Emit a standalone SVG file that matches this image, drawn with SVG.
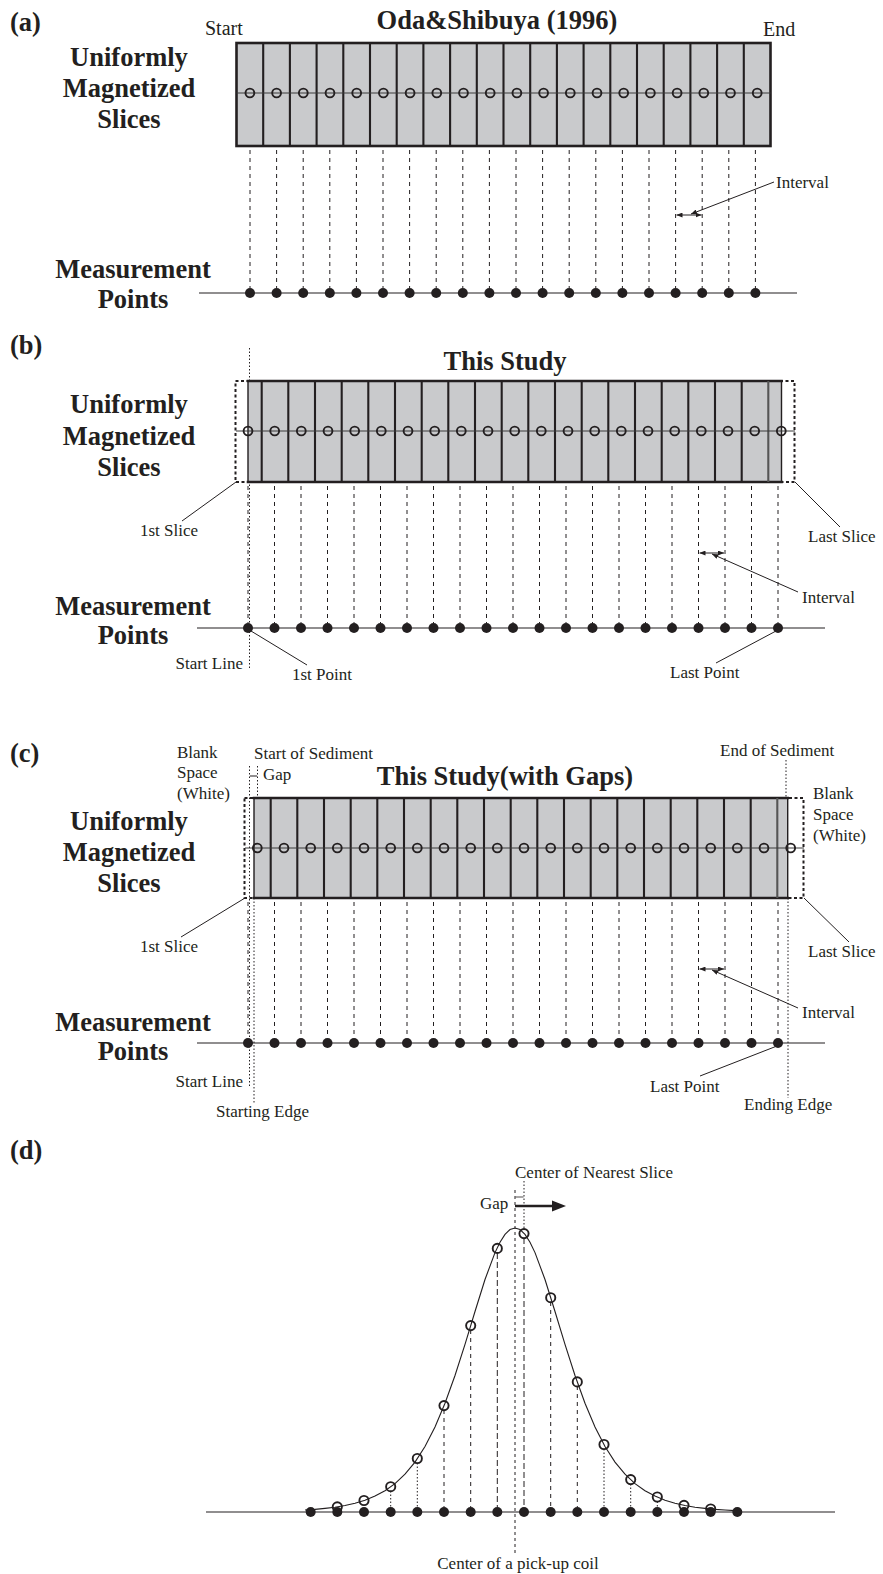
<svg xmlns="http://www.w3.org/2000/svg" width="883" height="1574" viewBox="0 0 883 1574">
<style>
text{font-family:"Liberation Serif","Times New Roman",serif;fill:#231f20}
.lb{font-weight:bold;font-size:26.5px}
.rg{font-size:20px}
.sm{font-size:17px}
.mid{text-anchor:middle}
.end{text-anchor:end}
.box{fill:#c9cacc;stroke:#231f20;stroke-width:2.6}
.dv{stroke:#231f20;stroke-width:2.1;fill:none}
.hl{stroke:#3a3a3a;stroke-width:1;fill:none}
.oc{fill:none;stroke:#231f20;stroke-width:1.9}
.dot{fill:#231f20}
.dash{stroke:#231f20;stroke-width:1;stroke-dasharray:4 4;fill:none}
.dotl{stroke:#231f20;stroke-width:1;stroke-dasharray:1.5 2;fill:none}
.dbox{fill:none;stroke:#231f20;stroke-width:2;stroke-dasharray:3 2.5}
.ln{stroke:#231f20;stroke-width:1;fill:none}
.axis{stroke:#231f20;stroke-width:1.2;fill:none}
.arr{stroke:#231f20;stroke-width:1;fill:none;marker-start:url(#ah);marker-end:url(#ah)}
.lead{stroke:#231f20;stroke-width:1;fill:none;marker-end:url(#ah)}
.ld{stroke:#231f20;stroke-width:1;stroke-dasharray:6 3;fill:none}
</style>
<defs>
<marker id="ah" viewBox="0 0 6 5" refX="6" refY="2.5" markerWidth="6" markerHeight="5" markerUnits="userSpaceOnUse" orient="auto-start-reverse">
<path d="M0,0 L6,2.5 L0,5 z" fill="#231f20"/>
</marker>
</defs>

<!-- ===== Panel (a) ===== -->
<g id="panel-a-labels">
<text class="lb" x="10" y="31">(a)</text>
<text class="rg" x="205" y="35">Start</text>
<text class="lb mid" x="497" y="29">Oda&amp;Shibuya (1996)</text>
<text class="rg" x="763" y="36">End</text>
<text class="lb mid" x="129" y="66">Uniformly</text>
<text class="lb mid" x="129" y="97">Magnetized</text>
<text class="lb mid" x="129" y="128">Slices</text>
<text class="lb mid" x="133" y="278">Measurement</text>
<text class="lb mid" x="133" y="308">Points</text>
<text class="sm" x="776" y="188">Interval</text>
</g>
<g id="slices-a">
<rect class="box" x="236.5" y="43" width="534" height="103"/>
<path class="dv" d="M263.2 43V146M289.9 43V146M316.6 43V146M343.3 43V146M370 43V146M396.7 43V146M423.4 43V146M450.1 43V146M476.8 43V146M503.5 43V146M530.2 43V146M556.9 43V146M583.6 43V146M610.3 43V146M637 43V146M663.7 43V146M690.4 43V146M717.1 43V146M743.8 43V146"/>
<path class="hl" d="M236.5 93H770.5"/>
<g>
<circle class="oc" cx="249.9" cy="93" r="4.4"/><circle class="oc" cx="276.6" cy="93" r="4.4"/><circle class="oc" cx="303.3" cy="93" r="4.4"/><circle class="oc" cx="330" cy="93" r="4.4"/><circle class="oc" cx="356.7" cy="93" r="4.4"/><circle class="oc" cx="383.4" cy="93" r="4.4"/><circle class="oc" cx="410.1" cy="93" r="4.4"/><circle class="oc" cx="436.8" cy="93" r="4.4"/><circle class="oc" cx="463.5" cy="93" r="4.4"/><circle class="oc" cx="490.2" cy="93" r="4.4"/><circle class="oc" cx="516.9" cy="93" r="4.4"/><circle class="oc" cx="543.6" cy="93" r="4.4"/><circle class="oc" cx="570.3" cy="93" r="4.4"/><circle class="oc" cx="597" cy="93" r="4.4"/><circle class="oc" cx="623.7" cy="93" r="4.4"/><circle class="oc" cx="650.4" cy="93" r="4.4"/><circle class="oc" cx="677.1" cy="93" r="4.4"/><circle class="oc" cx="703.8" cy="93" r="4.4"/><circle class="oc" cx="730.5" cy="93" r="4.4"/><circle class="oc" cx="757.2" cy="93" r="4.4"/>
</g>
</g>
<g id="points-a">
<path class="axis" d="M199 293H797"/>
<circle class="dot" cx="250" cy="293" r="5"/><circle class="dot" cx="276.6" cy="293" r="5"/><circle class="dot" cx="303.2" cy="293" r="5"/><circle class="dot" cx="329.8" cy="293" r="5"/><circle class="dot" cx="356.4" cy="293" r="5"/><circle class="dot" cx="383" cy="293" r="5"/><circle class="dot" cx="409.6" cy="293" r="5"/><circle class="dot" cx="436.2" cy="293" r="5"/><circle class="dot" cx="462.8" cy="293" r="5"/><circle class="dot" cx="489.4" cy="293" r="5"/><circle class="dot" cx="516" cy="293" r="5"/><circle class="dot" cx="542.6" cy="293" r="5"/><circle class="dot" cx="569.2" cy="293" r="5"/><circle class="dot" cx="595.8" cy="293" r="5"/><circle class="dot" cx="622.4" cy="293" r="5"/><circle class="dot" cx="649" cy="293" r="5"/><circle class="dot" cx="675.6" cy="293" r="5"/><circle class="dot" cx="702.2" cy="293" r="5"/><circle class="dot" cx="728.8" cy="293" r="5"/><circle class="dot" cx="755.4" cy="293" r="5"/>
</g>
<g id="connectors-a">
<path class="dash" d="M250 150V288M276.6 150V288M303.2 150V288M329.8 150V288M356.4 150V288M383 150V288M409.6 150V288M436.2 150V288M462.8 150V288M489.4 150V288M516 150V288M542.6 150V288M569.2 150V288M595.8 150V288M622.4 150V288M649 150V288M675.6 150V288M702.2 150V288M728.8 150V288M755.4 150V288"/>
<line class="arr" x1="676.5" y1="215" x2="701.5" y2="215"/>
<line class="lead" x1="774" y1="182" x2="691" y2="214"/>
</g>

<!-- ===== Panel (b) ===== -->
<g id="panel-b-labels">
<text class="lb" x="10" y="354">(b)</text>
<text class="lb mid" x="505" y="370">This Study</text>
<text class="lb mid" x="129" y="413">Uniformly</text>
<text class="lb mid" x="129" y="445">Magnetized</text>
<text class="lb mid" x="129" y="476">Slices</text>
<text class="lb mid" x="133" y="615">Measurement</text>
<text class="lb mid" x="133" y="644">Points</text>
<text class="sm" x="140" y="536">1st Slice</text>
<text class="sm" x="808" y="542">Last Slice</text>
<text class="sm" x="802" y="603">Interval</text>
<text class="sm end" x="243" y="669">Start Line</text>
<text class="sm" x="292" y="680">1st Point</text>
<text class="sm" x="670" y="678">Last Point</text>
</g>
<g id="startline-b">
<path class="dotl" d="M249.5 348V670"/>
</g>
<g id="slices-b">
<rect class="dbox" x="235.5" y="381" width="559" height="101"/>
<rect class="box" x="248" y="381" width="533.5" height="101" style="stroke-width:0"/>
<path class="dv" style="stroke-width:2.6" d="M246.7 381H782.8M246.7 482H782.8"/>
<path class="ln" style="stroke-width:1.4" d="M248 381V482M781.5 381V482"/>
<path class="dv" d="M261.7 381V482M288.3 381V482M315 381V482M341.7 381V482M368.3 381V482M395 381V482M421.7 381V482M448.3 381V482M475 381V482M501.7 381V482M528.3 381V482M555 381V482M581.7 381V482M608.3 381V482M635 381V482M661.7 381V482M688.3 381V482M715 381V482M741.7 381V482"/>
<path class="dv" style="stroke:#555" d="M768.3 381V482"/>
<path class="hl" d="M236 431H795"/>
<circle class="oc" cx="248" cy="431" r="4.4"/><circle class="oc" cx="274.7" cy="431" r="4.4"/><circle class="oc" cx="301.3" cy="431" r="4.4"/><circle class="oc" cx="328" cy="431" r="4.4"/><circle class="oc" cx="354.7" cy="431" r="4.4"/><circle class="oc" cx="381.3" cy="431" r="4.4"/><circle class="oc" cx="408" cy="431" r="4.4"/><circle class="oc" cx="434.7" cy="431" r="4.4"/><circle class="oc" cx="461.3" cy="431" r="4.4"/><circle class="oc" cx="488" cy="431" r="4.4"/><circle class="oc" cx="514.7" cy="431" r="4.4"/><circle class="oc" cx="541.3" cy="431" r="4.4"/><circle class="oc" cx="568" cy="431" r="4.4"/><circle class="oc" cx="594.7" cy="431" r="4.4"/><circle class="oc" cx="621.3" cy="431" r="4.4"/><circle class="oc" cx="648" cy="431" r="4.4"/><circle class="oc" cx="674.7" cy="431" r="4.4"/><circle class="oc" cx="701.3" cy="431" r="4.4"/><circle class="oc" cx="728" cy="431" r="4.4"/><circle class="oc" cx="754.7" cy="431" r="4.4"/><circle class="oc" cx="781.3" cy="431" r="4.4"/>
</g>
<g id="points-b">
<path class="axis" d="M197 628H825"/>
<circle class="dot" cx="248" cy="628" r="5"/><circle class="dot" cx="274.5" cy="628" r="5"/><circle class="dot" cx="301" cy="628" r="5"/><circle class="dot" cx="327.5" cy="628" r="5"/><circle class="dot" cx="354" cy="628" r="5"/><circle class="dot" cx="380.5" cy="628" r="5"/><circle class="dot" cx="407" cy="628" r="5"/><circle class="dot" cx="433.5" cy="628" r="5"/><circle class="dot" cx="460" cy="628" r="5"/><circle class="dot" cx="486.5" cy="628" r="5"/><circle class="dot" cx="513" cy="628" r="5"/><circle class="dot" cx="539.5" cy="628" r="5"/><circle class="dot" cx="566" cy="628" r="5"/><circle class="dot" cx="592.5" cy="628" r="5"/><circle class="dot" cx="619" cy="628" r="5"/><circle class="dot" cx="645.5" cy="628" r="5"/><circle class="dot" cx="672" cy="628" r="5"/><circle class="dot" cx="698.5" cy="628" r="5"/><circle class="dot" cx="725" cy="628" r="5"/><circle class="dot" cx="751.5" cy="628" r="5"/><circle class="dot" cx="778" cy="628" r="5"/>
</g>
<g id="connectors-b">
<path class="dash" d="M248 486V623M274.5 486V623M301 486V623M327.5 486V623M354 486V623M380.5 486V623M407 486V623M433.5 486V623M460 486V623M486.5 486V623M513 486V623M539.5 486V623M566 486V623M592.5 486V623M619 486V623M645.5 486V623M672 486V623M698.5 486V623M725 486V623M751.5 486V623M778 486V623"/>
<line class="arr" x1="699.5" y1="553" x2="724" y2="553"/>
<line class="lead" x1="798" y1="592" x2="712" y2="554"/>
<line class="ln" x1="236" y1="482" x2="182" y2="521"/>
<line class="ln" x1="795" y1="482" x2="840" y2="527"/>
<line class="ln" x1="251" y1="631" x2="307" y2="665"/>
<line class="ln" x1="776" y1="631" x2="716" y2="663"/>
</g>

<!-- ===== Panel (c) ===== -->
<g id="panel-c-labels">
<text class="lb" x="10" y="762">(c)</text>
<text class="sm" x="177" y="758">Blank</text>
<text class="sm" x="177" y="778">Space</text>
<text class="sm" x="177" y="799">(White)</text>
<text class="sm" x="254" y="759">Start of Sediment</text>
<text class="sm" x="263" y="780">Gap</text>
<text class="lb mid" x="505" y="785">This Study(with Gaps)</text>
<text class="sm" x="720" y="756">End of Sediment</text>
<text class="sm" x="813" y="799">Blank</text>
<text class="sm" x="813" y="820">Space</text>
<text class="sm" x="813" y="841">(White)</text>
<text class="lb mid" x="129" y="830">Uniformly</text>
<text class="lb mid" x="129" y="861">Magnetized</text>
<text class="lb mid" x="129" y="892">Slices</text>
<text class="lb mid" x="133" y="1031">Measurement</text>
<text class="lb mid" x="133" y="1060">Points</text>
<text class="sm" x="140" y="952">1st Slice</text>
<text class="sm" x="808" y="957">Last Slice</text>
<text class="sm" x="802" y="1018">Interval</text>
<text class="sm end" x="243" y="1087">Start Line</text>
<text class="sm" x="216" y="1117">Starting Edge</text>
<text class="sm" x="650" y="1092">Last Point</text>
<text class="sm" x="744" y="1110">Ending Edge</text>
</g>
<g id="edges-c">
<path class="dotl" d="M249.5 766V1086"/>
<path class="dotl" d="M257.5 766V798"/>
<path class="dotl" d="M254 898V1104"/>
<path class="dotl" d="M786 760V798"/>
<path class="dotl" d="M788 898V1098"/>
<line class="ln" x1="250" y1="776" x2="257" y2="776"/>
</g>
<g id="slices-c">
<rect class="dbox" x="244.5" y="798" width="559" height="100"/>
<rect class="box" x="254" y="798" width="533.7" height="100" style="stroke-width:0"/>
<path class="dv" style="stroke-width:2.6" d="M252.7 798H789M252.7 898H789"/>
<path class="ln" style="stroke-width:1.4" d="M254 798V898M787.7 798V898"/>
<path class="dv" d="M270.7 798V898M297.3 798V898M324 798V898M350.7 798V898M377.3 798V898M404 798V898M430.7 798V898M457.3 798V898M484 798V898M510.7 798V898M537.3 798V898M564 798V898M590.7 798V898M617.3 798V898M644 798V898M670.7 798V898M697.3 798V898M724 798V898M750.7 798V898"/>
<path class="dv" style="stroke:#555" d="M777.3 798V898"/>
<path class="hl" d="M245 848H804"/>
<circle class="oc" cx="257.3" cy="848" r="4.4"/><circle class="oc" cx="284" cy="848" r="4.4"/><circle class="oc" cx="310.7" cy="848" r="4.4"/><circle class="oc" cx="337.3" cy="848" r="4.4"/><circle class="oc" cx="364" cy="848" r="4.4"/><circle class="oc" cx="390.7" cy="848" r="4.4"/><circle class="oc" cx="417.3" cy="848" r="4.4"/><circle class="oc" cx="444" cy="848" r="4.4"/><circle class="oc" cx="470.7" cy="848" r="4.4"/><circle class="oc" cx="497.3" cy="848" r="4.4"/><circle class="oc" cx="524" cy="848" r="4.4"/><circle class="oc" cx="550.7" cy="848" r="4.4"/><circle class="oc" cx="577.3" cy="848" r="4.4"/><circle class="oc" cx="604" cy="848" r="4.4"/><circle class="oc" cx="630.7" cy="848" r="4.4"/><circle class="oc" cx="657.3" cy="848" r="4.4"/><circle class="oc" cx="684" cy="848" r="4.4"/><circle class="oc" cx="710.7" cy="848" r="4.4"/><circle class="oc" cx="737.3" cy="848" r="4.4"/><circle class="oc" cx="764" cy="848" r="4.4"/><circle class="oc" cx="790.7" cy="848" r="4.4"/>
</g>
<g id="points-c">
<path class="axis" d="M197 1043H825"/>
<circle class="dot" cx="248" cy="1043" r="5"/><circle class="dot" cx="274.5" cy="1043" r="5"/><circle class="dot" cx="301" cy="1043" r="5"/><circle class="dot" cx="327.5" cy="1043" r="5"/><circle class="dot" cx="354" cy="1043" r="5"/><circle class="dot" cx="380.5" cy="1043" r="5"/><circle class="dot" cx="407" cy="1043" r="5"/><circle class="dot" cx="433.5" cy="1043" r="5"/><circle class="dot" cx="460" cy="1043" r="5"/><circle class="dot" cx="486.5" cy="1043" r="5"/><circle class="dot" cx="513" cy="1043" r="5"/><circle class="dot" cx="539.5" cy="1043" r="5"/><circle class="dot" cx="566" cy="1043" r="5"/><circle class="dot" cx="592.5" cy="1043" r="5"/><circle class="dot" cx="619" cy="1043" r="5"/><circle class="dot" cx="645.5" cy="1043" r="5"/><circle class="dot" cx="672" cy="1043" r="5"/><circle class="dot" cx="698.5" cy="1043" r="5"/><circle class="dot" cx="725" cy="1043" r="5"/><circle class="dot" cx="751.5" cy="1043" r="5"/><circle class="dot" cx="778" cy="1043" r="5"/>
</g>
<g id="connectors-c">
<path class="dash" d="M248 902V1038M274.5 902V1038M301 902V1038M327.5 902V1038M354 902V1038M380.5 902V1038M407 902V1038M433.5 902V1038M460 902V1038M486.5 902V1038M513 902V1038M539.5 902V1038M566 902V1038M592.5 902V1038M619 902V1038M645.5 902V1038M672 902V1038M698.5 902V1038M725 902V1038M751.5 902V1038M778 902V1038"/>
<line class="arr" x1="699.5" y1="969" x2="724" y2="969"/>
<line class="lead" x1="798" y1="1008" x2="712" y2="970"/>
<line class="ln" x1="245" y1="898" x2="181" y2="937"/>
<line class="ln" x1="804" y1="898" x2="849" y2="942"/>
<line class="ln" x1="777" y1="1046" x2="700" y2="1076"/>
</g>

<!-- ===== Panel (d) ===== -->
<g id="panel-d-labels">
<text class="lb" x="10" y="1159">(d)</text>
<text class="sm" x="515" y="1178">Center of Nearest Slice</text>
<text class="sm" x="480" y="1209">Gap</text>
<text class="sm mid" x="518" y="1569">Center of a pick-up coil</text>
</g>
<g id="guides-d">
<path class="dash" style="stroke-dasharray:3 3" d="M515 1190V1556"/>
<path class="dotl" d="M524 1181V1229"/>
<line class="ln" x1="515.5" y1="1197" x2="523.5" y2="1197" style="stroke-width:0.8"/>
<line x1="515" y1="1206" x2="554" y2="1206" stroke="#231f20" stroke-width="2.6"/>
<polygon points="552,1200.5 566,1206 552,1211.5" fill="#231f20"/>
</g>
<g id="curve-d">
<path class="axis" d="M206 1512H835"/>
<polyline fill="none" stroke="#231f20" stroke-width="1.1" points="305,1510 315,1509.4 325,1508.4 335,1507.2 345,1505.5 355,1503.2 365,1500.2 375,1496.1 385,1490.7 395,1483.6 405,1474.2 415,1462.1 425,1446.5 435,1426.9 445,1403.2 455,1375.5 465,1344.4 475,1311.5 485,1279.5 495,1252.6 500,1242.2 505,1234.4 510,1229.6 515,1228 520,1229.6 525,1234.4 530,1242.2 535,1252.6 545,1279.5 555,1311.5 565,1344.4 575,1375.5 585,1403.2 595,1426.9 605,1446.5 615,1462.1 625,1474.2 635,1483.6 645,1490.7 655,1496.1 665,1500.2 675,1503.2 685,1505.5 695,1507.2 705,1508.4 715,1509.4 725,1510 735,1510.6"/>
</g>
<g id="drops-d">
<path class="dotl" d="M390.7 1491V1507M417.3 1463V1507M604 1449V1507M630.7 1484V1507M657.3 1501.5V1507"/>
<path class="dash" d="M444 1410V1507M470.7 1330V1507M550.7 1302V1507M577.3 1386V1507"/>
<path class="ld" d="M497.3 1253V1507M524 1238V1507"/>
</g>
<g id="points-d">
<circle class="dot" cx="310.7" cy="1512" r="5"/><circle class="dot" cx="337.3" cy="1512" r="5"/><circle class="dot" cx="364" cy="1512" r="5"/><circle class="dot" cx="390.7" cy="1512" r="5"/><circle class="dot" cx="417.3" cy="1512" r="5"/><circle class="dot" cx="444" cy="1512" r="5"/><circle class="dot" cx="470.7" cy="1512" r="5"/><circle class="dot" cx="497.3" cy="1512" r="5"/><circle class="dot" cx="524" cy="1512" r="5"/><circle class="dot" cx="550.7" cy="1512" r="5"/><circle class="dot" cx="577.3" cy="1512" r="5"/><circle class="dot" cx="604" cy="1512" r="5"/><circle class="dot" cx="630.7" cy="1512" r="5"/><circle class="dot" cx="657.3" cy="1512" r="5"/><circle class="dot" cx="684" cy="1512" r="5"/><circle class="dot" cx="710.7" cy="1512" r="5"/><circle class="dot" cx="737.3" cy="1512" r="5"/>
</g>
<g id="samples-d">
<circle class="oc" cx="337.3" cy="1506.8" r="4.6"/><circle class="oc" cx="364" cy="1500.5" r="4.6"/><circle class="oc" cx="390.7" cy="1486.7" r="4.6"/><circle class="oc" cx="417.3" cy="1458.5" r="4.6"/><circle class="oc" cx="444" cy="1405.6" r="4.6"/><circle class="oc" cx="470.7" cy="1325.6" r="4.6"/><circle class="oc" cx="497.3" cy="1248.4" r="4.6"/><circle class="oc" cx="524" cy="1233.6" r="4.6"/><circle class="oc" cx="550.7" cy="1297.7" r="4.6"/><circle class="oc" cx="577.3" cy="1381.9" r="4.6"/><circle class="oc" cx="604" cy="1444.5" r="4.6"/><circle class="oc" cx="630.7" cy="1479.6" r="4.6"/><circle class="oc" cx="657.3" cy="1497" r="4.6"/><circle class="oc" cx="684" cy="1505.3" r="4.6"/><circle class="oc" cx="710.7" cy="1509" r="4.6"/>
</g>
</svg>
